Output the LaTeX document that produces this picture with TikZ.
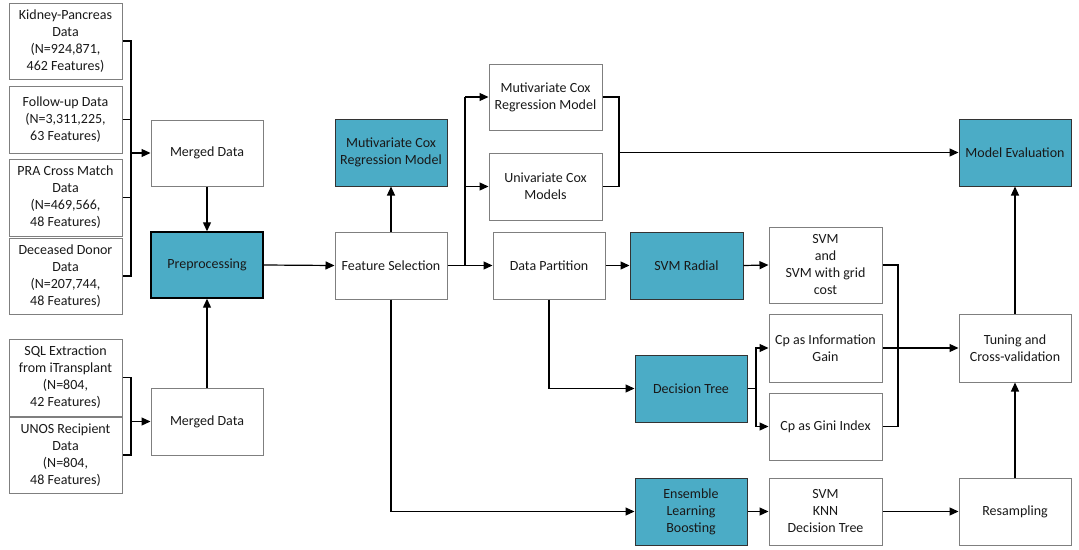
\documentclass[tikz,border=0pt]{standalone}
\usepackage{fontspec}
\setmainfont{Carlito}
\usetikzlibrary{arrows.meta}
\definecolor{teal1}{HTML}{4BACC6}
\definecolor{bord}{HTML}{7F7F7F}
\begin{document}
\begin{tikzpicture}[x=1pt,y=-1pt,
  box/.style={draw=bord,line width=1pt,fill=white,align=center,inner sep=1pt,
    font=\fontsize{14}{17}\selectfont,text=black!90},
  tbox/.style={box,fill=teal1,draw=black!80},
  arr/.style={line width=1.2pt,-{Triangle[length=9pt,width=8pt]}},
  ln/.style={line width=1.2pt}]
\useasboundingbox (0,0) rectangle (1079,549);
% left column
\node[box,minimum width=113,minimum height=76] (kp) at (65.5,41) {Kidney-Pancreas\\Data\\(N=924,871,\\462 Features)};
\node[box,minimum width=113,minimum height=67] (fu) at (65.5,119.5) {Follow-up Data\\(N=3,311,225,\\63 Features)};
\node[box,minimum width=113,minimum height=77] (pra) at (65.5,197.5) {PRA Cross Match\\Data\\(N=469,566,\\48 Features)};
\node[box,minimum width=113,minimum height=76] (dd) at (65.5,276) {Deceased Donor\\Data\\(N=207,744,\\48 Features)};
\node[box,minimum width=113,minimum height=77] (sql) at (65.5,377.5) {SQL Extraction\\from iTransplant\\(N=804,\\42 Features)};
\node[box,minimum width=113,minimum height=76] (unos) at (65.5,455) {UNOS Recipient\\Data\\(N=804,\\48 Features)};
% second column
\node[box,minimum width=112,minimum height=66] (md1) at (207,153) {Merged Data};
\node[tbox,minimum width=112,minimum height=66,draw=black,line width=1.4pt] (pre) at (207,265) {Preprocessing};
\node[box,minimum width=112,minimum height=67] (md2) at (207,421.5) {Merged Data};
% third column
\node[box,minimum width=112,minimum height=67] (fs) at (391,265.5) {Feature Selection};
\node[tbox,minimum width=112,minimum height=67] (mc1) at (391,152.5) {Mutivariate Cox\\Regression Model};
% fourth column
\node[box,minimum width=113,minimum height=66] (mc2) at (545.5,97) {Mutivariate Cox\\Regression Model};
\node[box,minimum width=113,minimum height=67] (uni) at (545.5,186.5) {Univariate Cox\\Models};
\node[box,minimum width=112,minimum height=67] (dp) at (549,265.5) {Data Partition};
% fifth column
\node[tbox,minimum width=113,minimum height=67] (svr) at (686.5,265.5) {SVM Radial};
\node[tbox,minimum width=112,minimum height=67] (dt) at (691,388.5) {Decision Tree};
\node[tbox,minimum width=112,minimum height=67] (ens) at (691,511.5) {Ensemble\\Learning\\Boosting};
% sixth column
\node[box,minimum width=113,minimum height=76] (svm) at (825.5,265) {SVM\\and\\SVM with grid\\cost};
\node[box,minimum width=113,minimum height=68] (cpi) at (825.5,348) {Cp as Information\\Gain};
\node[box,minimum width=113,minimum height=67] (cpg) at (825.5,426.5) {Cp as Gini Index};
\node[box,minimum width=113,minimum height=67] (svk) at (825.5,511.5) {SVM\\KNN\\Decision Tree};
% last column
\node[tbox,minimum width=112,minimum height=67] (me) at (1015,152.5) {Model Evaluation};
\node[box,minimum width=112,minimum height=68] (tcv) at (1015,348) {Tuning and\\Cross-validation};
\node[box,minimum width=112,minimum height=67] (res) at (1015,511.5) {Resampling};
% junction coordinates
\coordinate (b1) at (131,0);
\coordinate (j1) at (465,0);
\coordinate (r1) at (619,0);
\coordinate (j2) at (756,0);
\coordinate (r2) at (898,0);
% left brackets
\draw[ln] (kp.east) -| (dd.east -| b1) -- (dd.east);
\draw[ln] (fu.east) -- (fu.east -| b1);
\draw[ln] (pra.east) -- (pra.east -| b1);
\draw[arr] (md1.west -| b1) -- (md1.west);
\draw[ln] (sql.east) -| (unos.east -| b1) -- (unos.east);
\draw[arr] (md2.west -| b1) -- (md2.west);
\draw[arr] (md1.south) -- (pre.north);
\draw[arr] (md2.north) -- (pre.south);
\draw[arr] (pre.east) -- (fs.west);
\draw[arr] (fs.north) -- (mc1.south);
% feature selection fan-out
\draw[ln] (fs.east) -- (fs.east -| j1);
\draw[ln] (fs.east -| j1) -- (mc2.west -| j1);
\draw[arr] (mc2.west -| j1) -- (mc2.west);
\draw[arr] (uni.west -| j1) -- (uni.west);
\draw[arr] (fs.east -| j1) -- (dp.west);
% cox bracket
\draw[ln] (mc2.east) -| (uni.east -| r1) -- (uni.east);
\draw[arr] (me.west -| r1) -- (me.west);
% data partition
\draw[arr] (dp.east) -- (svr.west);
\draw[arr] (svr.east) -- (svm.west);
\draw[arr] (dp.south) |- (dt.west);
\draw[ln] (dt.east) -- (dt.east -| j2);
\draw[arr] (dt.east -| j2) |- (cpi.west);
\draw[arr] (dt.east -| j2) |- (cpg.west);
\draw[ln] (svm.east) -| (cpg.east -| r2) -- (cpg.east);
\draw[arr] (cpi.east) -- (tcv.west);
% ensemble
\draw[arr] (fs.south) |- (ens.west);
\draw[arr] (ens.east) -- (svk.west);
\draw[arr] (svk.east) -- (res.west);
\draw[arr] (res.north) -- (tcv.south);
\draw[arr] (tcv.north) -- (me.south);
\end{tikzpicture}
\end{document}
